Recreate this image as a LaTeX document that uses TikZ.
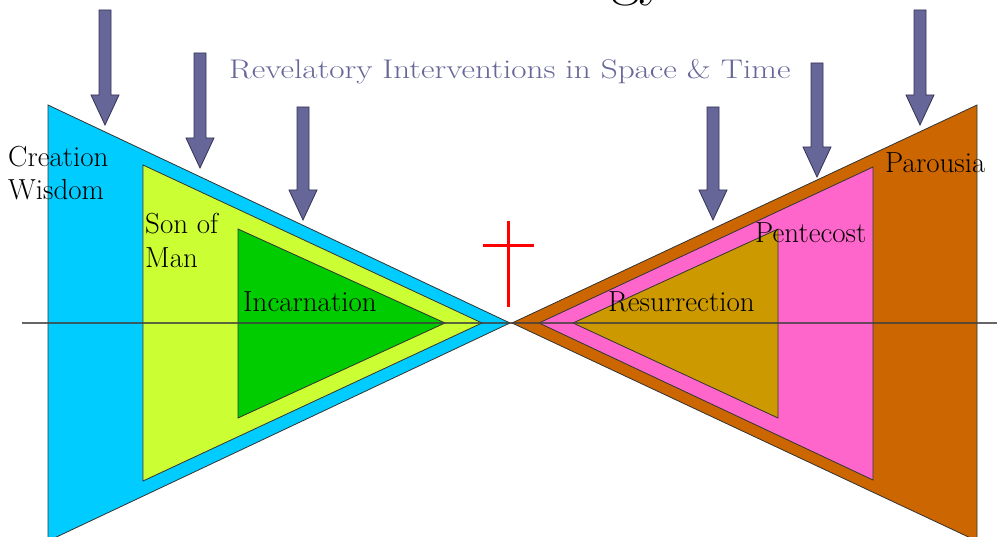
\documentclass[tikz,border=0pt]{standalone}
\usepackage{fontspec}
\usetikzlibrary{calc}
\definecolor{cyanF}{HTML}{00CCFF}
\definecolor{limeF}{HTML}{CCFF33}
\definecolor{greenF}{HTML}{00CC00}
\definecolor{orangeF}{HTML}{CC6600}
\definecolor{pinkF}{HTML}{FF66CC}
\definecolor{goldF}{HTML}{CC9900}
\definecolor{slateF}{HTML}{666699}
\definecolor{slateD}{HTML}{333355}
\tikzset{
  tri/.style={draw=black!80, line width=0.8pt, line join=miter},
  revarrow/.style={fill=slateF, draw=slateD, line width=0.8pt},
  lbl/.style={inner sep=0pt, text=black, font=\fontsize{29}{33.5}\selectfont, align=left},
}
\newcommand{\revArrow}[4]{% name, x, top, tip
  \coordinate (#1s) at (#2,#3);
  \coordinate (#1t) at (#2,#4);
  \path[revarrow] ($(#1s)+(-6,0)$) -- ($(#1s)+(6,0)$) -- ($(#1t)+(6,-30)$) -- ($(#1t)+(14,-30)$) -- (#1t) -- ($(#1t)+(-14,-30)$) -- ($(#1t)+(-6,-30)$) -- cycle;
}
\begin{document}
\begin{tikzpicture}[x=1pt,y=-1pt]
\useasboundingbox (0,0) rectangle (997,537);
% title remnant (cut off by the top edge, as in the reference)
\node[inner sep=0pt, anchor=base west, font=\fontsize{62}{64}\selectfont] (title) at (611,-6) {gy};
% left triangles
\path[tri, fill=cyanF] (48,105) -- (510,323) -- (48,541) -- cycle;
\path[tri, fill=limeF] (143,165) -- (482,323) -- (143,481) -- cycle;
\path[tri, fill=greenF] (238,229) -- (445,323) -- (238,418) -- cycle;
% right triangles
\path[tri, fill=orangeF] (977,105) -- (512,323) -- (977,541) -- cycle;
\path[tri, fill=pinkF] (873,167) -- (539,323) -- (873,480) -- cycle;
\path[tri, fill=goldF] (778,229) -- (573,323) -- (778,418) -- cycle;
% horizontal axis
\coordinate (axL) at (22,323);
\coordinate (axR) at (997,323);
\draw[black!75, line width=1.6pt, opacity=0.8] (axL) -- (axR);
% arrows
\revArrow{a1}{105}{10}{125}
\revArrow{a2}{200}{53}{168}
\revArrow{a3}{303}{107}{220}
\revArrow{a4}{713}{107}{220}
\revArrow{a5}{817}{63}{177}
\revArrow{a6}{920}{10}{125}
% header text
\node[inner sep=0pt, anchor=west, text=slateF, font=\fontsize{27}{29}\selectfont] (rev) at (229,72) {\scalebox{1.23}[1]{Revelatory Interventions in Space \& Time}};
% labels
\node[lbl, anchor=north west] (cw) at (8,146) {Creation\\Wisdom};
\node[lbl, anchor=north west] (sm) at (145,213) {Son of\\Man};
\node[lbl, anchor=base west] (inc) at (243,312) {Incarnation};
\node[lbl, anchor=base west] (res) at (608,312) {Resurrection};
\node[lbl, anchor=base west] (pen) at (755,243) {Pentecost};
\node[lbl, anchor=base west] (par) at (885,173) {Parousia};
% cross
\coordinate (crT) at (508,221);
\coordinate (crB) at (508,307);
\coordinate (crL) at (483,246);
\coordinate (crR) at (534,246);
\draw[red, line width=3pt] (crT) -- (crB);
\draw[red, line width=3pt] (crL) -- (crR);
\end{tikzpicture}
\end{document}
